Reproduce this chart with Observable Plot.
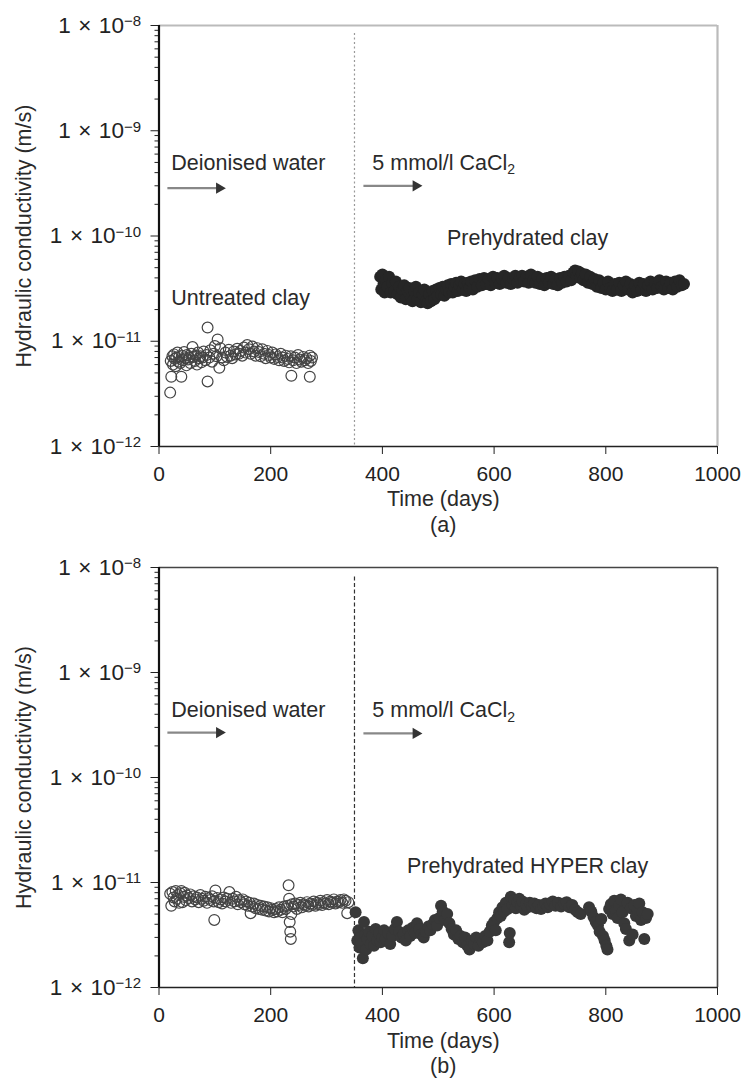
<!DOCTYPE html>
<html><head><meta charset="utf-8">
<script src="https://cdn.jsdelivr.net/npm/d3@7"></script>
<script src="https://cdn.jsdelivr.net/npm/@observablehq/plot@0.6"></script>
<style>
body{margin:0;background:#fff;}
#chart{width:747px;}
#chart svg{display:block;}
</style></head><body><div id="chart"></div>
<script>
// ---------- data (K in units of 1e-12 m/s) ----------
const untreatedA_day = [20,21,22,24,25,27,28,30,31,33,35,36,38,40,41,43,45,47,49,50,52,54,56,58,60,62,64,66,68,70,72,74,76,78,80,83,85,87,87,90,92,95,98,100,103,105,108,110,113,116,119,122,125,128,131,134,137,140,143,146,149,152,155,158,161,164,167,170,173,176,179,182,185,188,191,194,197,200,203,206,209,212,215,218,221,224,227,230,233,236,237,240,243,246,249,252,255,258,261,264,267,270,270,272,274];
const untreatedA_K = [3.25,6.5,4.6,7.2,6.0,7.5,6.8,5.8,7.0,7.8,6.4,7.1,6.2,4.6,7.3,6.6,7.9,6.9,5.9,7.4,6.7,7.0,6.2,7.6,8.8,7.1,6.5,7.3,6.0,7.8,6.9,7.2,6.3,7.0,8.0,6.6,7.4,4.15,13.5,7.0,8.2,6.4,7.6,9.0,7.2,10.4,5.6,8.6,7.0,6.6,7.8,7.1,8.3,7.3,6.9,8.0,7.5,8.5,7.6,8.1,7.3,8.7,7.8,9.2,8.4,7.6,8.9,8.0,7.3,8.6,7.9,7.2,8.4,7.6,6.9,8.1,7.4,7.0,7.8,6.8,7.5,7.1,6.6,7.6,7.0,6.5,7.3,6.8,6.3,7.2,4.7,6.6,7.0,6.2,7.4,6.7,6.4,7.1,6.6,6.9,6.2,7.3,4.6,6.5,7.0];

const prehydA_day = [396,398,400,402,404,406,409,412,415,418,421,424,427,430,433,436,439,442,445,448,451,454,457,460,463,466,469,472,475,478,481,484,487,490,493,496,499,502,505,508,511,514,517,520,523,526,529,532,535,538,541,544,547,550,553,556,559,562,566,570,574,578,582,586,590,594,598,602,606,610,614,618,622,626,630,634,638,642,646,650,654,658,662,666,670,674,678,682,686,690,694,698,702,706,710,714,718,722,726,730,734,738,742,745,748,751,754,757,760,764,768,772,776,780,784,788,792,796,800,804,808,812,816,820,824,828,832,836,840,844,848,852,856,860,864,868,872,876,880,884,888,892,896,900,904,908,912,916,920,924,928,932,936,940];
const prehydA_K = [41,31,43,35,29,38,33,41,29,36, 30,37,28,33,26,31,34,25,30,32, 26,24,30,33,25,29,23.5,28,31,24, 23,28,24,30,25,31,27,32,28,33, 27,31,34,29,35,29,33,36,30,34, 37,31,35,30,36,32,37,31,38,33, 39,34,40,35,39,34,41,36,40,35, 39,42,36,40,35,39,42,36,40,42, 37,41,36,43,38,36,41,35,39,34, 40,36,41,35,39,34,40,36,41,37, 42,38,45,47,41,46,40,44,38,43, 36,41,35,39,33,38,32,36,31,37, 32,30,35,31,36,30,34,37,31,35, 29,34,30,36,31,35,30,34,37,31, 36,32,38,33,31,37,32,36,31,37, 33,38,34,35];

const untreatedB_day = [20,22,24,26,28,30,32,34,36,38,40,42,44,46,48,50,53,56,59,62,65,68,71,74,77,80,83,86,89,92,95,98,99,101,104,107,110,113,116,119,122,126,129,132,135,138,141,144,147,150,153,156,159,162,164,167,170,173,176,179,182,185,188,191,194,197,200,203,206,209,212,215,218,221,224,227,230,232,233,234,235,236,237,238,241,244,247,250,253,256,259,262,265,268,271,274,277,280,283,286,289,292,295,298,301,304,307,310,313,316,319,322,325,328,331,334,337,339];
const untreatedB_K = [7.8,6.0,8.1,7.2,6.6,8.3,7.0,7.6,6.4,7.9,8.3,6.5,7.3,8.0,6.8,7.5,7.1,7.7,6.6,7.4,6.9,7.2,6.5,7.6,7.0,6.7,7.3,6.4,7.1,6.8,7.4,6.6,4.4,8.4,7.1,6.5,6.9,6.3,7.2,6.6,7.0,8.1,6.4,7.0,6.6,7.3,6.2,6.8,6.5,6.9,6.2,6.6,6.0,6.4,5.1,5.9,6.3,5.7,6.1,5.6,6.0,5.5,5.9,5.4,5.8,5.3,5.7,5.5,5.2,5.6,5.3,5.8,5.5,5.2,5.9,5.6,6.0,9.4,7.0,4.2,3.4,2.9,5.0,6.2,5.9,6.3,5.6,6.1,6.4,5.8,6.2,6.0,6.5,5.9,6.3,6.1,6.6,6.0,6.4,6.2,6.7,6.1,6.5,6.3,6.8,6.2,6.6,6.4,6.9,6.3,6.6,6.5,6.8,6.4,6.9,6.7,5.1,6.5];

const hyperB_day = [352,355,357,359,361,363,365,367,369,371,373,376,379,382,385,388,391,394,397,400,403,406,410,414,418,422,426,430,434,438,442,446,450,454,458,462,466,470,474,478,482,486,490,494,498,502,505,508,512,516,520,524,528,532,536,540,544,548,552,556,560,564,568,572,576,580,584,588,592,596,600,603,606,609,612,615,618,621,624,627,628,630,633,636,639,642,645,648,651,654,657,660,664,668,672,676,680,684,688,692,696,700,705,710,715,720,725,730,735,740,745,750,755,770,774,778,782,786,789,792,795,798,801,803,806,809,812,815,818,821,824,827,830,833,836,839,842,845,848,851,854,857,860,863,866,869,872,875];
const hyperB_K = [5.2,2.8,3.5,2.4,3.0,2.6,1.9,4.2,3.2,2.3,2.9,3.4,2.6,3.1,2.5,3.6,2.8,3.3,2.7,3.0,3.5,2.9,3.3,2.6,3.1,3.6,4.2,3.4,3.0,3.2,2.8,3.5,3.1,3.7,3.3,4.1,3.6,3.2,3.0,3.4,3.8,3.5,4.0,4.4,3.9,4.6,6.0,5.3,4.4,5.0,4.1,3.6,3.2,3.5,2.9,3.1,2.7,3.0,2.5,2.3,2.8,2.6,3.0,2.5,2.9,2.7,3.1,2.8,3.4,3.9,4.2,3.5,4.6,5.2,4.8,5.8,5.3,6.4,5.6,2.7,3.3,7.3,6.1,6.8,5.7,6.5,7.0,6.0,6.6,5.5,6.2,5.8,6.4,5.9,6.3,5.7,6.1,5.6,6.0,6.3,5.8,6.2,6.6,6.0,6.4,5.9,6.3,6.5,5.8,6.1,5.5,5.2,5.0,5.8,5.3,4.7,4.2,3.9,3.4,4.5,3.1,2.8,2.5,2.3,5.6,6.2,5.0,6.7,5.4,4.6,6.0,6.9,5.2,4.1,3.6,6.4,2.8,5.7,3.2,6.1,4.8,5.5,6.3,4.4,5.2,2.9,4.6,5.0];

const phaseChangeDay = [350];
const xTicks = [0, 200, 400, 600, 800, 1000];
const yTicks = [1e-12, 1e-11, 1e-10, 1e-9, 1e-8];
const xDomain = [0, 1000];
const yDomain = [1e-12, 1e-8];
const xLabel = "Time (days)";
const yLabel = "Hydraulic conductivity (m/s)";

// annotation anchors (data coordinates)
const labelsA = [
  {text: "Deionised water", day: 22, K: 4.25e-10, anchor: "start"},
  {text: "5 mmol/l CaCl₂", day: 382, K: 4.25e-10, anchor: "start"},
  {text: "Prehydrated clay", day: 660, K: 8.3e-11, anchor: "middle"},
  {text: "Untreated clay", day: 22, K: 2.23e-11, anchor: "start"}
];
const labelsB = [
  {text: "Deionised water", day: 22, K: 3.74e-10, anchor: "start"},
  {text: "5 mmol/l CaCl₂", day: 382, K: 3.74e-10, anchor: "start"},
  {text: "Prehydrated HYPER clay", day: 660, K: 1.24e-11, anchor: "middle"}
];
const arrowsA = [{x1: 15, x2: 108, K: 2.85e-10}, {x1: 366, x2: 460, K: 3.0e-10}];
const arrowsB = [{x1: 15, x2: 108, K: 2.68e-10}, {x1: 366, x2: 460, K: 2.63e-10}];

const toRows = (days, ks) => days.map((d, i) => ({day: d, K: ks[i] * 1e-12}));
const minorTicks = d3.scaleLog().domain(yDomain).ticks().filter(v => !yTicks.some(t => Math.abs(t - v) / t < 1e-6));

const FONT = "'Liberation Sans', Arial, Helvetica, sans-serif";
const INK = "#2a2a2a";

function panel(opt) {
  const svg = Plot.plot({
    width: 747, height: opt.height,
    marginLeft: 158.5, marginRight: 30, marginTop: opt.marginTop, marginBottom: opt.marginBottom,
    style: {fontFamily: FONT, fontSize: "21px", color: "#222", background: "#fff", overflow: "visible"},
    x: {domain: xDomain},
    y: {type: "log", domain: yDomain},
    marks: [
      Plot.ruleY([yDomain[1]], {stroke: opt.frameColor, strokeWidth: opt.frameWidth}),
      Plot.ruleX([xDomain[1]], {stroke: opt.frameColor, strokeWidth: opt.frameWidth}),
      Plot.ruleX(phaseChangeDay, {y1: opt.dashTop, y2: yDomain[0], stroke: opt.dashColor, strokeWidth: 1.2, strokeDasharray: opt.dash}),
      Plot.axisX({ticks: xTicks, tickSize: 8, tickPadding: 12, label: null, fontSize: 21, tickFormat: d => String(d), color: "#222"}),
      Plot.axisY({ticks: yTicks, tickSize: 8, tickPadding: 10, label: null, fontSize: 22.5, color: "#222",
        tickFormat: d => "1\u2004×\u200410^" + Math.round(Math.log10(d))}),
      Plot.axisY({ticks: minorTicks, tickSize: 4, label: null, tickFormat: () => "", color: "#222"}),
      Plot.ruleX([xDomain[0]], {stroke: "#111", strokeWidth: 2.2}),
      Plot.ruleY([yDomain[0]], {stroke: "#222", strokeWidth: 1.6}),
      Plot.dot(opt.open, {x: "day", y: "K", r: 5.4, stroke: "#444", strokeWidth: 1.2, fill: "none"}),
      Plot.dot(opt.filled, {x: "day", y: "K", r: 6, fill: opt.filledColor, stroke: "none"}),
      Plot.link(opt.arrows, {x1: "x1", x2: "x2", y1: "K", y2: "K", stroke: "#888", strokeWidth: 2.2}),
      Plot.dot(opt.arrows, {x: "x2", y: "K", symbol: "triangle", rotate: 90, r: 4.2, fill: "#333", stroke: "none"}),
      Plot.text(opt.labels.filter(d => d.anchor === "start"), {x: "day", y: "K", text: "text", textAnchor: "start", lineAnchor: "bottom", fontSize: 21.5, fill: INK}),
      Plot.text(opt.labels.filter(d => d.anchor === "middle"), {x: "day", y: "K", text: "text", textAnchor: "middle", lineAnchor: "bottom", fontSize: 21.5, fill: INK}),
      Plot.text([yLabel], {frameAnchor: "left", dx: -134.5, rotate: -90, textAnchor: "middle", lineAnchor: "middle", fontSize: 21.5, fill: INK}),
      Plot.text([xLabel], {frameAnchor: "bottom", dx: 5, dy: opt.xLabelDy, lineAnchor: "bottom", fontSize: 21.5, fill: INK}),
      Plot.text([opt.caption], {frameAnchor: "bottom", dx: 5, dy: opt.captionDy, lineAnchor: "bottom", fontSize: 21.5, fill: INK})
    ]
  });
  // superscript exponents on y tick labels
  d3.select(svg).selectAll('g[aria-label="y-axis tick label"] text').each(function() {
    const t = this.textContent;
    if (!t.includes("^")) return;
    const [base, exp] = t.split("^");
    const s = d3.select(this);
    s.text(base);
    s.append("tspan").attr("dy", "-0.42em").attr("font-size", "15px").text(exp.replace("-", "−"));
  });
  // subscript in CaCl₂
  d3.select(svg).selectAll("text").each(function() {
    if (this.children.length === 0 && this.textContent.endsWith("CaCl₂")) {
      const s = d3.select(this);
      s.text(this.textContent.slice(0, -1));
      s.append("tspan").attr("dy", "0.3em").attr("font-size", "14px").text("2");
    }
  });
  return svg;
}

const chart = document.getElementById("chart");
chart.append(panel({
  height: 545, marginTop: 25, marginBottom: 99,
  open: toRows(untreatedA_day, untreatedA_K),
  filled: toRows(prehydA_day, prehydA_K),
  labels: labelsA, arrows: arrowsA,
  frameColor: "#bbb", frameWidth: 2.2,
  dash: "2,2.5", dashColor: "#999", dashTop: 8.4e-9,
  filledColor: "#262626",
  caption: "(a)", xLabelDy: 59.5, captionDy: 85
}));
chart.append(panel({
  height: 534, marginTop: 22, marginBottom: 92,
  open: toRows(untreatedB_day, untreatedB_K),
  filled: toRows(hyperB_day, hyperB_K),
  labels: labelsB, arrows: arrowsB,
  frameColor: "#444", frameWidth: 1.6,
  dash: "4,2.5", dashColor: "#333", dashTop: 8.1e-9,
  filledColor: "#383838",
  caption: "(b)", xLabelDy: 60, captionDy: 85
}));
</script></body></html>
